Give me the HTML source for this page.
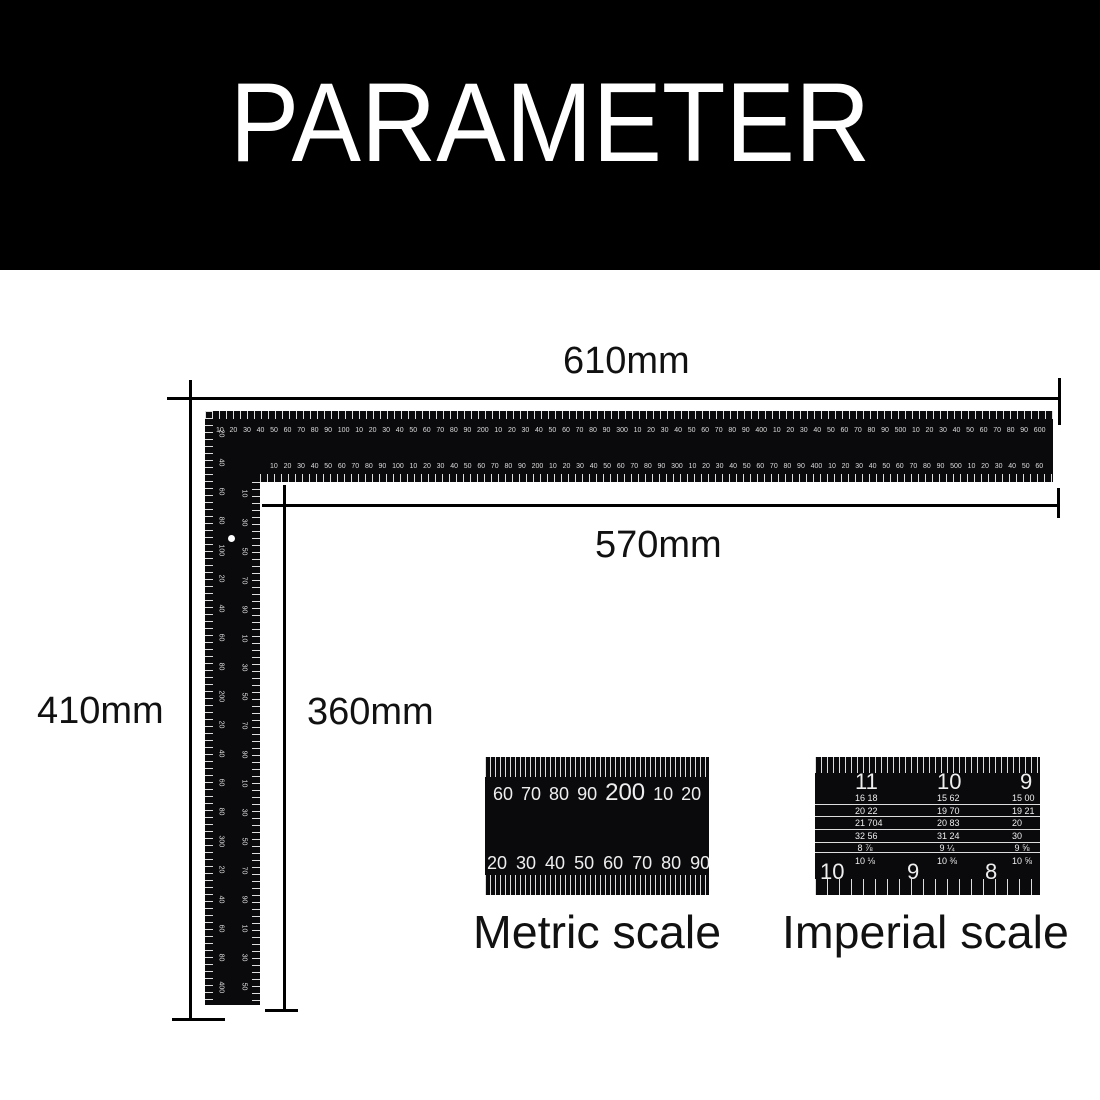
<!DOCTYPE html>
<html><head><meta charset="utf-8"><style>
*{margin:0;padding:0;box-sizing:border-box}
body{width:1100px;height:1100px;background:#fff;position:relative;overflow:hidden;font-family:"Liberation Sans",sans-serif}
.hdr{position:absolute;left:0;top:0;width:1100px;height:270px;background:#000}
.hdr div{position:absolute;left:0;width:1100px;top:58px;text-align:center;color:#fff;font-size:112px;line-height:130px;transform:scaleX(0.93);font-weight:500}
.ln{position:absolute;background:#000}
.lbl{position:absolute;font-size:38px;color:#111;line-height:40px}
.blk{position:absolute;background:#0a0a0d}
.tk{position:absolute;background-image:repeating-linear-gradient(90deg,#ddd 0 1px,transparent 1px 7px)}
.tkv{position:absolute;background-image:repeating-linear-gradient(180deg,#ddd 0 1px,transparent 1px 7px)}
.row{position:absolute;display:flex;justify-content:space-between;color:#ddd;font-size:7px;line-height:9px}
.col{position:absolute;display:flex;flex-direction:column;justify-content:space-between;color:#ddd;font-size:7px}
.col span{transform:rotate(90deg);display:block;width:10px;text-align:center}
.big{position:absolute;font-size:46.5px;color:#111;line-height:50px}
.sc{position:absolute;color:#eee;font-size:18px}
</style></head><body>
<div class="hdr"><div>PARAMETER</div></div>

<div class="blk" style="left:205px;top:411px;width:848px;height:71px"></div>
<div class="blk" style="left:205px;top:411px;width:55px;height:594px"></div>
<div class="tk" style="left:205px;top:411px;width:848px;height:8px"></div>
<div class="tk" style="left:260px;top:474px;width:793px;height:8px"></div>
<div class="tkv" style="left:205px;top:411px;width:8px;height:594px"></div>
<div class="tkv" style="left:252px;top:482px;width:8px;height:520px"></div>
<div class="row" style="left:216px;top:426px;width:830px"><span>10</span><span>20</span><span>30</span><span>40</span><span>50</span><span>60</span><span>70</span><span>80</span><span>90</span><span>100</span><span>10</span><span>20</span><span>30</span><span>40</span><span>50</span><span>60</span><span>70</span><span>80</span><span>90</span><span>200</span><span>10</span><span>20</span><span>30</span><span>40</span><span>50</span><span>60</span><span>70</span><span>80</span><span>90</span><span>300</span><span>10</span><span>20</span><span>30</span><span>40</span><span>50</span><span>60</span><span>70</span><span>80</span><span>90</span><span>400</span><span>10</span><span>20</span><span>30</span><span>40</span><span>50</span><span>60</span><span>70</span><span>80</span><span>90</span><span>500</span><span>10</span><span>20</span><span>30</span><span>40</span><span>50</span><span>60</span><span>70</span><span>80</span><span>90</span><span>600</span></div>
<div class="row" style="left:270px;top:462px;width:774px"><span>10</span><span>20</span><span>30</span><span>40</span><span>50</span><span>60</span><span>70</span><span>80</span><span>90</span><span>100</span><span>10</span><span>20</span><span>30</span><span>40</span><span>50</span><span>60</span><span>70</span><span>80</span><span>90</span><span>200</span><span>10</span><span>20</span><span>30</span><span>40</span><span>50</span><span>60</span><span>70</span><span>80</span><span>90</span><span>300</span><span>10</span><span>20</span><span>30</span><span>40</span><span>50</span><span>60</span><span>70</span><span>80</span><span>90</span><span>400</span><span>10</span><span>20</span><span>30</span><span>40</span><span>50</span><span>60</span><span>70</span><span>80</span><span>90</span><span>500</span><span>10</span><span>20</span><span>30</span><span>40</span><span>50</span><span>60</span></div>
<div class="col" style="left:216px;top:430px;height:560px"><span>20</span><span>40</span><span>60</span><span>80</span><span>100</span><span>20</span><span>40</span><span>60</span><span>80</span><span>200</span><span>20</span><span>40</span><span>60</span><span>80</span><span>300</span><span>20</span><span>40</span><span>60</span><span>80</span><span>400</span></div>
<div class="col" style="left:239px;top:490px;height:500px"><span>10</span><span>30</span><span>50</span><span>70</span><span>90</span><span>10</span><span>30</span><span>50</span><span>70</span><span>90</span><span>10</span><span>30</span><span>50</span><span>70</span><span>90</span><span>10</span><span>30</span><span>50</span></div>
<div style="position:absolute;left:228px;top:535px;width:7px;height:7px;border-radius:50%;background:#fff"></div>

<div class="ln" style="left:167px;top:397px;width:893px;height:3px"></div>
<div class="ln" style="left:189px;top:380px;width:3px;height:640px"></div>
<div class="ln" style="left:1058px;top:378px;width:3px;height:47px"></div>
<div class="ln" style="left:172px;top:1018px;width:53px;height:3px"></div>
<div class="ln" style="left:262px;top:504px;width:798px;height:3px"></div>
<div class="ln" style="left:1057px;top:488px;width:3px;height:30px"></div>
<div class="ln" style="left:283px;top:485px;width:3px;height:525px"></div>
<div class="ln" style="left:265px;top:1009px;width:33px;height:3px"></div>

<div class="lbl" style="left:563px;top:341px">610mm</div>
<div class="lbl" style="left:595px;top:525px">570mm</div>
<div class="lbl" style="left:37px;top:691px">410mm</div>
<div class="lbl" style="left:307px;top:692px">360mm</div>

<div class="blk" style="left:485px;top:757px;width:224px;height:138px;overflow:hidden">
<div class="tk" style="left:0;top:0;width:224px;height:20px;background-image:repeating-linear-gradient(90deg,#ddd 0 1px,transparent 1px 5px)"></div>
<div class="tk" style="left:0;top:118px;width:224px;height:20px;background-image:repeating-linear-gradient(90deg,#ddd 0 1px,transparent 1px 5px)"></div>
<div class="sc" style="left:8px;top:22px;word-spacing:3px;white-space:nowrap">60 70 80 90 <span style="font-size:24px">200</span> 10 20 30</div>
<div class="sc" style="left:2px;top:96px;word-spacing:4px;white-space:nowrap">20 30 40 50 60 70 80 90</div>
</div>
<div class="blk" style="left:815px;top:757px;width:225px;height:138px;overflow:hidden">
<div class="tk" style="left:0;top:0;width:225px;height:16px;background-image:repeating-linear-gradient(90deg,#ddd 0 1px,transparent 1px 6px)"></div>
<div class="tk" style="left:0;top:122px;width:225px;height:16px;background-image:repeating-linear-gradient(90deg,#ddd 0 1px,transparent 1px 12px)"></div>
<div class="sc" style="left:40px;top:12px;font-size:22px">11</div>
<div class="sc" style="left:122px;top:12px;font-size:22px">10</div>
<div class="sc" style="left:205px;top:12px;font-size:22px">9</div>
<div style="position:absolute;left:0;top:47px;width:225px;height:1px;background:#ddd;box-shadow:0 12px #ddd,0 25px #ddd,0 38px #ddd,0 48px #ddd"></div>
<div class="sc" style="left:40px;top:35px;font-size:9px;line-height:12.5px;white-space:pre">16 18
20 22
21 704
32 56
 8 ⅞
10 ⅛</div>
<div class="sc" style="left:122px;top:35px;font-size:9px;line-height:12.5px;white-space:pre">15 62
19 70
20 83
31 24
 9 ¼
10 ⅜</div>
<div class="sc" style="left:197px;top:35px;font-size:9px;line-height:12.5px;white-space:pre">15 00
19 21
20
30
 9 ⅝
10 ⅝</div>
<div class="sc" style="left:5px;top:102px;font-size:22px">10</div>
<div class="sc" style="left:92px;top:102px;font-size:22px">9</div>
<div class="sc" style="left:170px;top:102px;font-size:22px">8</div>
</div>
<div class="big" style="left:473px;top:907px">Metric scale</div>
<div class="big" style="left:782px;top:907px">Imperial scale</div>
</body></html>
